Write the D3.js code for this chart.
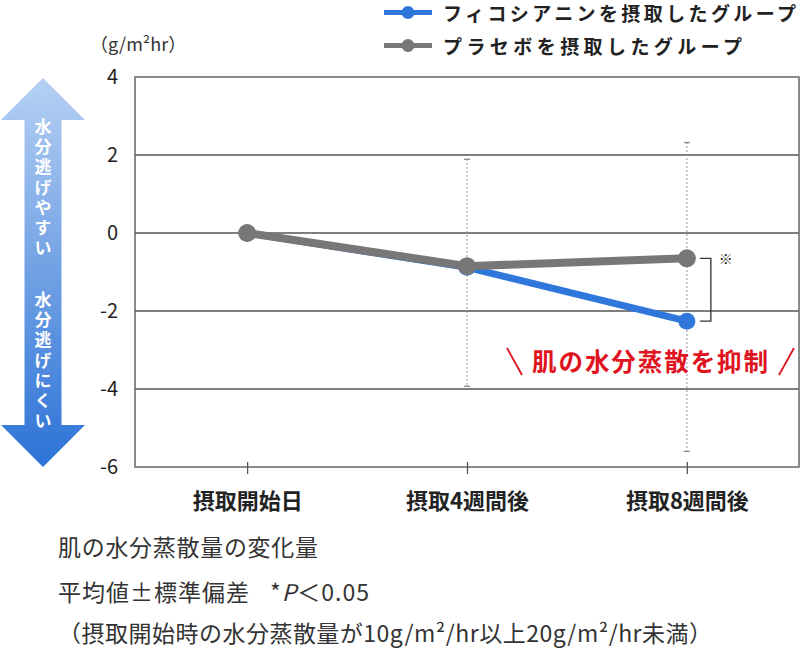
<!DOCTYPE html>
<html><head><meta charset="utf-8">
<script src="https://cdn.jsdelivr.net/npm/d3@7"></script>
<style>
html,body{margin:0;padding:0;background:#fff;}
svg{display:block;font-family:"Noto Sans CJK JP","Noto Sans",sans-serif;}
</style></head>
<body>
<svg id="chart" width="800" height="650"></svg>
<script>
const categories = ["摂取開始日", "摂取4週間後", "摂取8週間後"];
const phycocyanin = [0, -0.88, -2.26];
const placebo = [0, -0.85, -0.65];
const errUpper = [null, 1.89, 2.32];
const errLower = [null, -3.93, -5.6];
const yTicks = [-6, -4, -2, 0, 2, 4];
const seriesNames = ["フィコシアニンを摂取したグループ", "プラセボを摂取したグループ"];
const unitLabel = "（g/m²hr）";
const arrowTop = "水分逃げやすい";
const arrowBottom = "水分逃げにくい";
const highlight = "肌の水分蒸散を抑制";
const notes = ["肌の水分蒸散量の変化量", "平均値±標準偏差", "（摂取開始時の水分蒸散量が10g/m²/hr以上20g/m²/hr未満）"];

const blue = "#2f77db", gray = "#777777";
const svg = d3.select("#chart");
const L = 135, R = 799, T = 77, B = 467;
const x = d3.scalePoint().domain(categories).range([L, R]).padding(0.51);
const y = d3.scaleLinear().domain([-6, 4]).range([B, T]);

// arrow gradient
const defs = svg.append("defs");
const grad = defs.append("linearGradient").attr("id", "ag").attr("x1", 0).attr("y1", 0).attr("x2", 0).attr("y2", 1);
grad.append("stop").attr("offset", "0%").attr("stop-color", "#b5d0f3");
grad.append("stop").attr("offset", "100%").attr("stop-color", "#2c72d6");
const aT = y(4) + 1, aB = y(-6), hH = 42, cx = 43, hw = 42, sw = 18.5;
svg.append("path")
  .attr("d", `M${cx},${aT} L${cx + hw},${aT + hH} L${cx + sw},${aT + hH} L${cx + sw},${aB - hH} L${cx + hw},${aB - hH} L${cx},${aB} L${cx - hw},${aB - hH} L${cx - sw},${aB - hH} L${cx - sw},${aT + hH} L${cx - hw},${aT + hH} Z`)
  .attr("fill", "url(#ag)");
function vtext(str, y0) {
  svg.append("text")
    .attr("x", cx).attr("y", y0)
    .style("writing-mode", "vertical-rl").style("text-orientation", "upright")
    .attr("letter-spacing", 3.2)
    .attr("fill", "#fff").attr("font-size", 17).attr("font-weight", 700).text(str);
}
vtext(arrowTop, 118);
vtext(arrowBottom, 291);

// grid
svg.append("g").selectAll("line").data(yTicks.filter(v => v > -6 && v < 4)).join("line")
  .attr("x1", L).attr("x2", R).attr("y1", d => y(d)).attr("y2", d => y(d))
  .attr("stroke", "#555").attr("stroke-width", 1.3);
svg.append("rect").attr("x", L).attr("y", T).attr("width", R - L).attr("height", B - T)
  .attr("fill", "none").attr("stroke", "#666").attr("stroke-width", 1.5);

// y axis labels
const yAxis = d3.axisLeft(y).tickValues(yTicks).tickSize(0).tickPadding(17).tickFormat(d => String(d));
const gy = svg.append("g").attr("transform", `translate(${L},0)`).call(yAxis);
gy.select(".domain").remove();
gy.selectAll("text").attr("font-size", 20).attr("fill", "#222").attr("font-family", "'Noto Sans CJK JP',sans-serif");

// x axis
const xAxis = d3.axisBottom(x).tickSize(7).tickPadding(19);
const gx = svg.append("g").attr("transform", `translate(0,${B})`).call(xAxis);
gx.select(".domain").remove();
gx.selectAll(".tick line").attr("y1", -5).attr("stroke", "#555").attr("stroke-width", 1.3);
gx.selectAll("text").attr("font-size", 22).attr("font-weight", 700).attr("fill", "#222")
  .attr("font-family", "'Noto Sans CJK JP',sans-serif");

svg.append("text").attr("x", 90).attr("y", 51).attr("font-size", 18).attr("fill", "#333").text(unitLabel);

// error bars
const eb = categories.map((c, i) => ({c, hi: errUpper[i], lo: errLower[i]})).filter(d => d.hi !== null);
const ge = svg.append("g");
ge.selectAll("line.v").data(eb).join("line").attr("class", "v")
  .attr("x1", d => x(d.c)).attr("x2", d => x(d.c)).attr("y1", d => y(d.hi)).attr("y2", d => y(d.lo))
  .attr("stroke", "#888").attr("stroke-width", 1.4).attr("stroke-dasharray", "1.3,2.7");
["hi", "lo"].forEach(k => {
  ge.selectAll("line.c" + k).data(eb).join("line").attr("class", "c" + k)
    .attr("x1", d => x(d.c) - 3).attr("x2", d => x(d.c) + 3).attr("y1", d => y(d[k])).attr("y2", d => y(d[k]))
    .attr("stroke", "#888").attr("stroke-width", 1.3);
});

// lines
const line = d3.line().x((d, i) => x(categories[i])).y(d => y(d));
function series(vals, color, w, r) {
  svg.append("path").datum(vals).attr("d", line).attr("fill", "none").attr("stroke", color).attr("stroke-width", w);
  svg.append("g").selectAll("circle").data(vals).join("circle")
    .attr("cx", (d, i) => x(categories[i])).attr("cy", d => y(d)).attr("r", r).attr("fill", color);
}
series(phycocyanin, blue, 7, 8.5);
series(placebo, gray, 8, 9);

// significance bracket
const xb = x(categories[2]);
svg.append("path")
  .attr("d", `M${xb + 13},${y(placebo[2])} H${xb + 24} V${y(phycocyanin[2])} H${xb + 13}`)
  .attr("fill", "none").attr("stroke", "#333").attr("stroke-width", 1.3);
svg.append("text").attr("x", xb + 39).attr("y", y(placebo[2])).attr("text-anchor", "middle")
  .attr("dominant-baseline", "central").attr("font-size", 14).attr("fill", "#222").text("※");

// highlight
const hg = svg.append("g").attr("fill", "#e0141f").attr("font-weight", 700);
hg.append("text").attr("x", 532).attr("y", 371).attr("font-size", 24.5)
  .attr("textLength", 236).attr("lengthAdjust", "spacing").text(highlight);
svg.append("line").attr("x1", 507).attr("y1", 348).attr("x2", 522).attr("y2", 375).attr("stroke", "#e0141f").attr("stroke-width", 1.8);
svg.append("line").attr("x1", 794).attr("y1", 348).attr("x2", 779).attr("y2", 375).attr("stroke", "#e0141f").attr("stroke-width", 1.8);

// legend
const lg = svg.append("g");
const legendLen = [353, 299];
[[blue, 12.5], [gray, 45.5]].forEach(([c, yy], i) => {
  lg.append("line").attr("x1", 384).attr("x2", 432).attr("y1", yy).attr("y2", yy).attr("stroke", c).attr("stroke-width", 5);
  lg.append("circle").attr("cx", 408).attr("cy", yy).attr("r", 6.5).attr("fill", c);
  lg.append("text").attr("x", 443).attr("y", yy).attr("dominant-baseline", "central")
    .attr("font-size", 19).attr("font-weight", 700)
    .attr("textLength", legendLen[i]).attr("lengthAdjust", "spacing")
    .attr("fill", "#222").text(seriesNames[i]);
});

// notes
const ng = svg.append("g").attr("font-size", 23).attr("fill", "#333");
ng.append("text").attr("x", 58).attr("y", 556).attr("textLength", 260).attr("lengthAdjust", "spacing").text(notes[0]);
const t2 = ng.append("text").attr("x", 58).attr("y", 601).attr("letter-spacing", 1);
t2.append("tspan").text(notes[1]);
t2.append("tspan").attr("dx", 20).text("*");
t2.append("tspan").attr("font-style", "italic").text("P");
t2.append("tspan").text("＜0.05");
ng.append("text").attr("x", 58).attr("y", 642).attr("textLength", 654).attr("lengthAdjust", "spacing").text(notes[2]);
</script>
</body></html>
